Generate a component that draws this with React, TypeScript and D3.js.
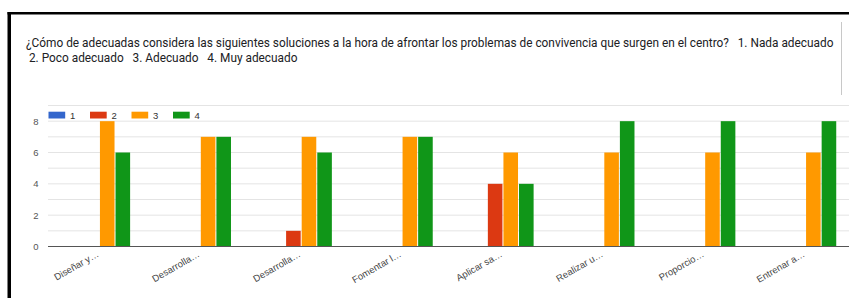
import React from "react";
import * as d3 from "d3";

const categories = ["Diseñar y…", "Desarrolla…", "Desarrolla…", "Fomentar l…", "Aplicar sa…", "Realizar u…", "Proporcio…", "Entrenar a…"];
const seriesNames = ["1", "2", "3", "4"];
const series1 = [0, 0, 0, 0, 0, 0, 0, 0];
const series2 = [0, 0, 1, 0, 4, 0, 0, 0];
const series3 = [8, 7, 7, 7, 6, 6, 6, 6];
const series4 = [6, 7, 6, 7, 4, 8, 8, 8];
const colors = ["#3366cc", "#dc3912", "#ff9900", "#109618"];
const yTicks = [0, 2, 4, 6, 8];
const titleLine1 = "¿Cómo de adecuadas considera las siguientes soluciones a la hora de afrontar los problemas de convivencia que surgen en el centro?   1. Nada adecuado";
const titleLine2 = " 2. Poco adecuado   3. Adecuado   4. Muy adecuado";

export default function App() {
  const W = 849, H = 298;
  const allSeries = [series1, series2, series3, series4];
  const x = d3.scaleBand<number>().domain(d3.range(categories.length)).range([49, 856]).paddingInner(0).paddingOuter(0);
  const groupW = x.bandwidth() * 0.618;
  const xs = d3.scaleBand<number>().domain(d3.range(4)).range([0, groupW]);
  const y = d3.scaleLinear().domain([0, 9]).range([246.5, 105.5]);
  const grid = d3.range(0, 10);
  const font = "Arial, 'Liberation Sans', sans-serif";
  return (
    <svg width={W} height={H} style={{ position: "absolute", left: 0, top: 0, background: "#fff" }}>
      <rect x={0} y={0} width={W} height={H} fill="#fff" />
      {/* frame */}
      <rect x={7.5} y={12} width={W} height={2.5} fill="#000" />
      <rect x={7.5} y={12} width={3.5} height={H} fill="#000" />
      <line x1={841.5} x2={841.5} y1={22} y2={95} stroke="#c8c8c8" strokeWidth={1} />
      {/* title */}
      <text x={26} y={46.5} fontFamily="Roboto, sans-serif" fontSize={11.85} fill="#202124" style={{ whiteSpace: "pre" }}>{titleLine1}</text>
      <text x={26} y={61.5} fontFamily="Roboto, sans-serif" fontSize={11.85} fill="#202124" style={{ whiteSpace: "pre" }}>{titleLine2}</text>
      {/* gridlines */}
      {grid.map((g) => (
        <line key={g} x1={48} x2={W} y1={y(g)} y2={y(g)} stroke="#e4e4e4" strokeWidth={1} />
      ))}
      {/* y tick labels */}
      {yTicks.map((t) => (
        <text key={t} x={38.5} y={y(t) + 3.5} textAnchor="end" fontFamily={font} fontSize={9.5} fill="#555">{t}</text>
      ))}
      {/* bars */}
      {allSeries.map((s, si) =>
        s.map((v, ci) =>
          v > 0 ? (
            <rect key={`${si}-${ci}`} x={(x(ci) as number) + (x.bandwidth() - groupW) / 2 + (xs(si) as number) + 0.5}
              y={y(v)} width={xs.bandwidth() - 1} height={y(0) - y(v)} fill={colors[si]} />
          ) : null
        )
      )}
      {/* baseline */}
      <line x1={48} x2={W} y1={y(0)} y2={y(0)} stroke="#555" strokeWidth={1.2} />
      {/* x labels */}
      {categories.map((c, i) => {
        const cx = (x(i) as number) + x.bandwidth() / 2;
        return (
          <text key={i} transform={`translate(${cx},${256}) rotate(-30)`} textAnchor="end" fontFamily={font} fontSize={9.5} fill="#444">{c}</text>
        );
      })}
      {/* legend */}
      {seriesNames.map((n, i) => (
        <g key={n} transform={`translate(${48.5 + i * 41.5},111.7)`}>
          <rect x={0} y={0} width={16.7} height={6.8} fill={colors[i]} />
          <text x={21.5} y={7} fontFamily={font} fontSize={9.5} fill="#333">{n}</text>
        </g>
      ))}
    </svg>
  );
}
